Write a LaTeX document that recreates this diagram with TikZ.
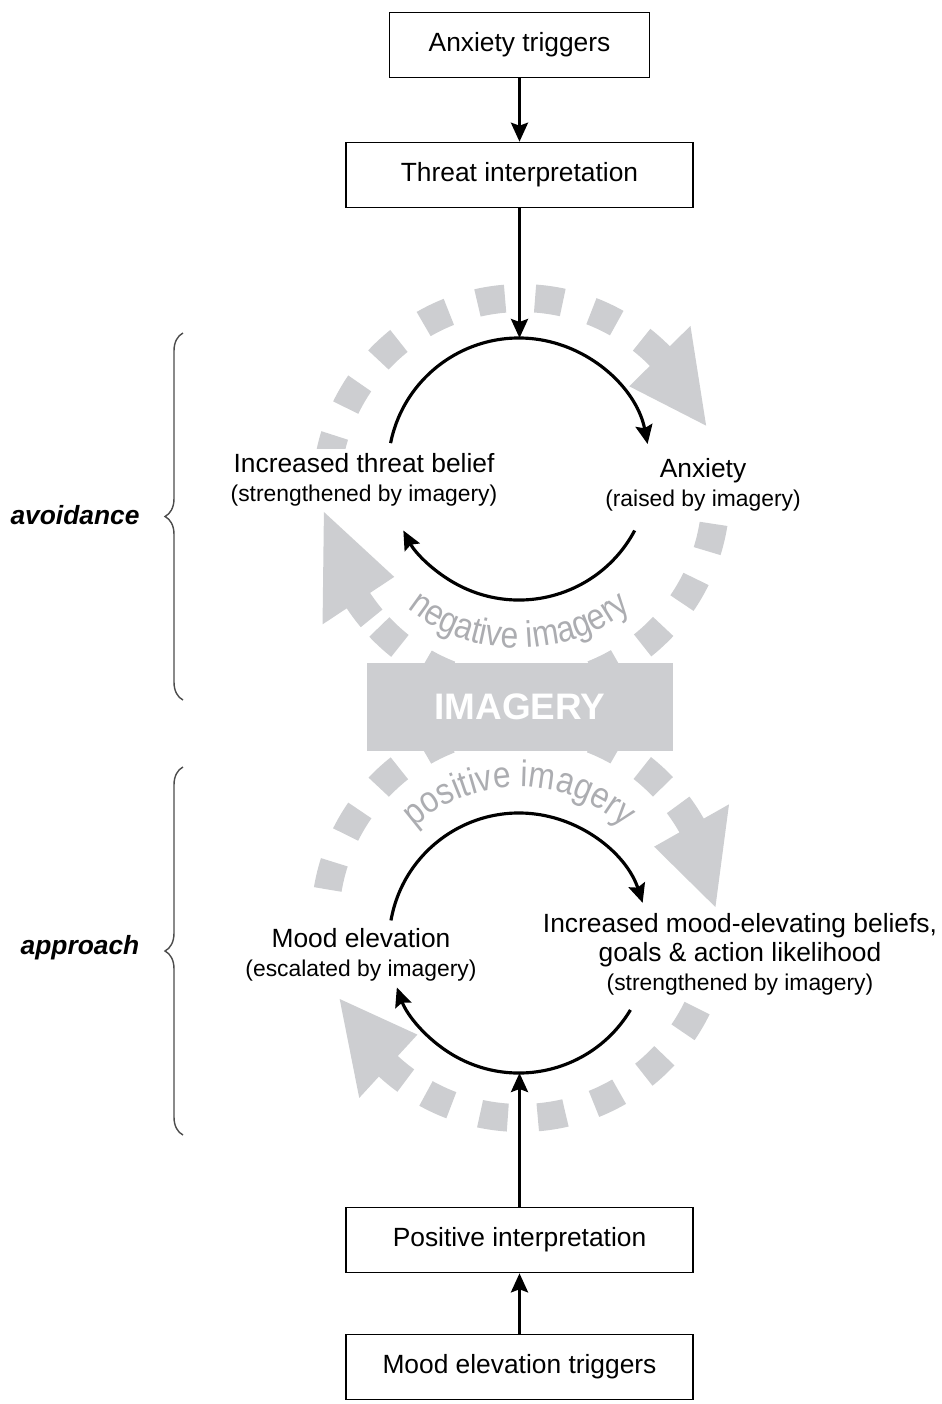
\documentclass[tikz,border=0pt]{standalone}
\usepackage{fontspec}
\setmainfont{Liberation Sans}
\newfontfamily\narrowsans[FakeStretch=0.86]{Liberation Sans}
\usepackage{tikz}
\usetikzlibrary{positioning, arrows.meta, decorations.pathreplacing, decorations.text}

\definecolor{ringgray}{RGB}{205,206,209}
\definecolor{arcgray}{RGB}{172,173,177}
\newcommand{\arcfont}{\narrowsans\fontsize{21}{24}\selectfont}
\newcommand{\note}{\fontsize{13}{16.5}\selectfont}

\begin{document}
\begin{tikzpicture}[x=0.02cm, y=0.02cm, on grid,
    box/.style={draw, line width=0.9pt, fill=white, minimum width=6.94cm, minimum height=1.3cm, font=\fontsize{15}{18}\selectfont},
    flow/.style={-{Stealth[length=0.38cm, width=0.34cm, inset=0.06cm]}, line width=1.8pt},
    ring/.style={ringgray, line width=0.56cm, dash pattern=on 0.56cm off 0.6cm},
    shaft/.style={ringgray, line width=0.56cm},
    lbl/.style={fill=white, align=center, inner sep=0.1cm, font=\fontsize{15}{16.5}\selectfont},
    side/.style={font=\fontsize{15}{18}\selectfont\bfseries\itshape},
    brc/.style={decorate, decoration={brace, amplitude=0.36cm}, line width=0.8pt, black!70}]

\useasboundingbox (0,0) rectangle (941,-1404);

% negative imagery loop
\begin{scope}[shift={(521,-493)}]
  \draw[ring] (60.6:195) arc[start angle=60.6, end angle=175, radius=195];
  \draw[ring] (223.4:195) arc[start angle=223.4, end angle=356, radius=195];
  \draw[shaft] (51.8:195) arc[start angle=51.8, end angle=44, radius=195];
  \fill[ringgray] (44.6:238) -- (44.6:152) -- (20:197) -- cycle;
  \draw[shaft] (220:195) arc[start angle=220, end angle=213, radius=195];
  \fill[ringgray] (213.5:238) -- (213.5:152) -- (185.5:198) -- cycle;
\end{scope}

% positive imagery loop
\begin{scope}[shift={(521,-922)}]
  \draw[ring] (43.6:196) arc[start angle=43.6, end angle=175, radius=196];
  \draw[ring] (241:196) arc[start angle=241, end angle=352, radius=196];
  \draw[shaft] (36.7:196) arc[start angle=36.7, end angle=29, radius=196];
  \fill[ringgray] (29.5:239) -- (29.5:153) -- (4.4:195) -- cycle;
  \draw[shaft] (234:196) arc[start angle=234, end angle=227, radius=196];
  \fill[ringgray] (227.4:239) -- (227.4:153) -- (203:197) -- cycle;
\end{scope}

\node[fill=ringgray, minimum width=6.12cm, minimum height=1.76cm, text=white,
      font=\fontsize{21}{24}\selectfont\bfseries] (img) at (520,-707) {IMAGERY};

\begin{scope}[shift={(519,-469)}]
  \path[decorate, decoration={text along path, text={|\arcfont|negative imagery},
        text align=center, text color=arcgray}]
    (215:179) arc[start angle=215, end angle=325, radius=179];
\end{scope}
\begin{scope}[shift={(519,-943)}]
  \path[decorate, decoration={text along path, text={|\arcfont|positive imagery},
        text align=center, text color=arcgray}]
    (150:156) arc[start angle=150, end angle=30, radius=156];
\end{scope}

\node[box] (threat) at (519.5,-175) {Threat interpretation};
\node[box, minimum width=5.2cm] (trig) [above=2.6cm of threat] {Anxiety triggers};
\node[box] (mood) at (519.5,-1367) {Mood elevation triggers};
\node[box] (pos) [above=2.54cm of mood] {Positive interpretation};

\node[lbl] (belief) at (364,-480) {Increased threat belief\\{\note (strengthened by imagery)}};
\node[lbl] (anx) at (703,-485) {Anxiety\\{\note (raised by imagery)}};
\node[lbl] (elev) at (361,-955) {Mood elevation\\{\note (escalated by imagery)}};
\node[lbl] (goals) at (740,-954) {Increased mood-elevating beliefs,\\goals \& action likelihood\\{\note (strengthened by imagery)}};

\coordinate (ntop) at (519.5,-338);
\coordinate (pbot) at (519.5,-1073);

\draw[flow] (trig) -- (threat);
\draw[flow] (threat) -- (ntop);
\draw[flow] (pos) -- (pbot);
\draw[flow] (mood) -- (pos);

\begin{scope}[shift={(519,-469)}]
  \draw[flow] (168.6:131) arc[start angle=168.6, end angle=11, radius=131];
  \draw[flow] (-28:131) arc[start angle=-28, end angle=-152, radius=131];
\end{scope}
\begin{scope}[shift={(519,-943)}]
  \draw[flow] (170:130) arc[start angle=170, end angle=18, radius=130];
  \draw[flow] (-31:130) arc[start angle=-31, end angle=-160, radius=130];
\end{scope}

\coordinate (abot) at (183,-700);
\coordinate (atop) at (183,-333);
\coordinate (pbrc) at (183,-1135);
\coordinate (ptop) at (183,-767);
\draw[brc] (abot) -- (atop);
\draw[brc] (pbrc) -- (ptop);
\node[side] (avoid) at (75,-515) {avoidance};
\node[side] (appr) at (80,-948) {approach};

\end{tikzpicture}
\end{document}
